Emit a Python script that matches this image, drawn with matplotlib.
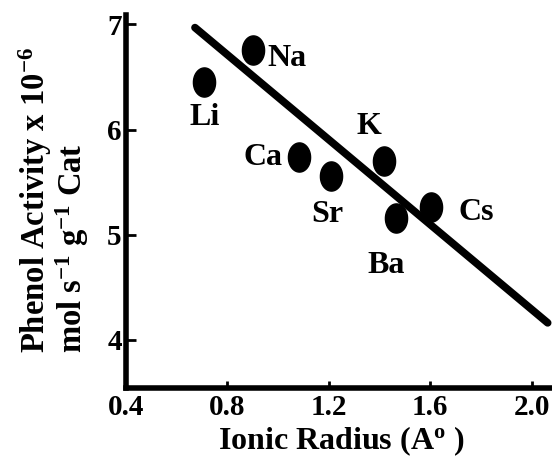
import numpy as np
import matplotlib
matplotlib.use("Agg")
import matplotlib.pyplot as plt
from matplotlib.path import Path

plt.rcParams['font.family'] = ['Liberation Serif', 'DejaVu Serif']
plt.rcParams['font.weight'] = 'bold'
plt.rcParams['mathtext.default'] = 'regular'

# ---- data ----
cations = ["Li", "Na", "Ca", "Sr", "K", "Ba", "Cs"]
ionic_radius = [0.707, 0.899, 1.082, 1.208, 1.417, 1.464, 1.602]
phenol_activity = [6.45, 6.76, 5.74, 5.56, 5.70, 5.16, 5.26]
fit_x = [0.672, 2.063]
fit_y = [6.97, 4.16]
xticks = [0.4, 0.8, 1.2, 1.6, 2.0]
xtick_labels = ["0.4", "0.8", "1.2", "1.6", "2.0"]
yticks = [4, 5, 6, 7]

# label offsets in pixels (style)
label_offsets = {
    "Li": (1, -35), "Na": (34, -9), "Ca": (-36, -1), "Sr": (-4, -39),
    "K": (-15, 35), "Ba": (-10, -48), "Cs": (45, -5),
}

fig = plt.figure(figsize=(5.52, 4.61), dpi=100)
ax = fig.add_axes([126/552, 1-388/461, 1-126/552, (388-15)/461])

# ellipse marker
t = np.linspace(0, 2*np.pi, 60)
ell = Path(np.c_[0.76*np.cos(t), np.sin(t)], closed=True)

ax.plot(fit_x, fit_y, color='black', lw=5.5, solid_capstyle='round', zorder=2)
ax.plot(ionic_radius, phenol_activity, linestyle='none', marker=ell,
        markersize=21, color='black', zorder=3)

for name, x, y in zip(cations, ionic_radius, phenol_activity):
    dx, dy = label_offsets[name]
    ax.annotate(name, (x, y), xytext=(dx, dy), textcoords='offset pixels',
                ha='center', va='center', fontsize=23, fontweight='bold')

ax.set_xlim(0.4, 2.08)
ax.set_ylim(3.54, 7.09)
ax.set_xticks(xticks)
ax.set_xticklabels(xtick_labels)
ax.set_yticks(yticks)

for s in ['top', 'right']:
    ax.spines[s].set_visible(False)
for s in ['left', 'bottom']:
    ax.spines[s].set_linewidth(4)

ax.tick_params(axis='y', direction='in', length=7, width=2, pad=3, labelsize=21)
ax.tick_params(axis='x', direction='in', length=5, width=2, pad=4, labelsize=21)
for lab in ax.get_xticklabels() + ax.get_yticklabels():
    lab.set_fontweight('bold')

# y-axis label (two lines, left-aligned in rotated frame)
fig.text(45/552, 1-353/461, "Phenol Activity x 10$^{-6}$", rotation=90,
         rotation_mode='anchor', ha='left', va='baseline', fontsize=23.5,
         fontweight='bold')
fig.text(82/552, 1-353/461, "mol s$^{-1}$ g$^{-1}$ Cat", rotation=90,
         rotation_mode='anchor', ha='left', va='baseline', fontsize=23.5,
         fontweight='bold')

# x-axis label
fig.text(341/552, 3/461, "Ionic Radius (A$^{o}$ )", ha='center',
         va='bottom', fontsize=23, fontweight='bold')

fig.savefig("out.png", dpi=100)
